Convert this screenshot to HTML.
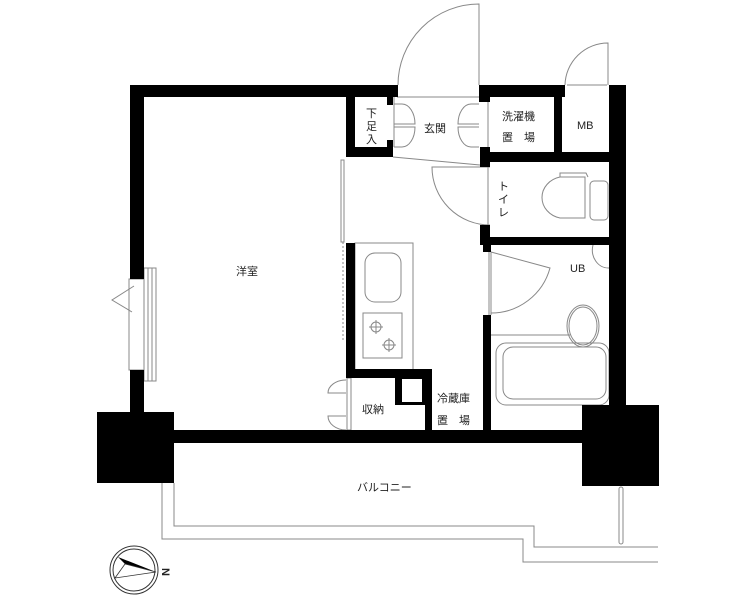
<!DOCTYPE html>
<html><head><meta charset="utf-8"><style>
html,body{margin:0;padding:0;background:#fff;}
svg text{font-family:"Liberation Sans","Noto Sans CJK JP",sans-serif;font-size:11px;fill:#222;}
</style></head><body>
<svg width="756" height="600" viewBox="0 0 756 600" xmlns="http://www.w3.org/2000/svg">
<g fill="none" stroke="#888" stroke-width="1">
<path d="M479,85 L479,4 A81,81 0 0 0 398,85"/>
<path d="M608,85 L608,43 A43,43 0 0 0 565,85"/>
<path d="M490,167 L432,167 A58,58 0 0 0 490,225"/>
<path d="M491,252 L550,268 A61,61 0 0 1 491,313"/>
<path d="M593,245 A16,18 0 0 0 609,268"/>
<path d="M134,286 L112,300 L132,312"/>
<path d="M394,104 L402,104 A13,20 0 0 1 415,124 L394,124 M394,147 L402,147 A13,20 0 0 0 415,127 L394,127"/>
<path d="M479,104 L471,104 A13,20 0 0 0 458,124 L479,124 M479,147 L471,147 A13,20 0 0 1 458,127 L479,127"/>
<path d="M346,380 A18,13 0 0 0 328,393 L346,393 M346,430 A18,14 0 0 1 328,416 L346,416"/>
<line x1="393" y1="157" x2="480" y2="165"/>
<line x1="397" y1="97" x2="479" y2="97"/>
<line x1="394" y1="97" x2="394" y2="147"/>
<line x1="488" y1="97" x2="488" y2="225"/>
<rect x="341" y="160" width="3" height="82"/>
<line x1="343" y1="242" x2="343" y2="340" stroke-dasharray="2,2"/>
<line x1="567" y1="85" x2="607" y2="85"/>
<line x1="489" y1="252" x2="489" y2="315"/>
<line x1="491" y1="252" x2="491" y2="315"/>
<rect x="129" y="279" width="15" height="91"/>
<rect x="144" y="268" width="12" height="113"/>
<line x1="148" y1="268" x2="148" y2="381"/><line x1="152" y1="268" x2="152" y2="381"/>
<rect x="355" y="243" width="58" height="127"/>
<rect x="365" y="253" width="36" height="49" rx="10"/>
<rect x="363" y="313" width="39" height="45"/>
<circle cx="376" cy="327" r="5"/><circle cx="389" cy="345" r="5"/>
<path d="M369,327h14M376,320v14M382,345h14M389,338v14"/>
<rect x="347" y="378" width="4" height="52"/>
<path d="M560,177 L585,177 L585,218 L560,218 A23,21 0 0 1 560,177Z"/>
<rect x="590" y="181" width="18" height="39" rx="4"/>
<path d="M560,177 L560,173 L586,173 L588,177"/>
<line x1="491" y1="335" x2="570" y2="335"/>
<ellipse cx="583" cy="326" rx="16" ry="21"/>
<ellipse cx="583" cy="326" rx="14" ry="19"/>
<rect x="496" y="343" width="113" height="62" rx="10"/>
<rect x="503" y="347" width="103" height="52" rx="10"/>
<path d="M162,483 L162,539 L523,539 L523,562 L658,562"/>
<path d="M174,483 L174,526 L534,526 L534,547 L658,547"/>
<rect x="619" y="487" width="4" height="57" rx="2"/>
</g>
<g fill="#000">
<rect x="132" y="85" width="266" height="12"/>
<rect x="479" y="85" width="86" height="12"/>
<rect x="609" y="85" width="17" height="320"/>
<rect x="130" y="85" width="14" height="194"/>
<rect x="130" y="370" width="14" height="42"/>
<rect x="97" y="412" width="77" height="71"/>
<rect x="174" y="430" width="410" height="13"/>
<rect x="582" y="405" width="77" height="81"/>
<rect x="346" y="97" width="9" height="60"/>
<rect x="346" y="147" width="47" height="10"/>
<rect x="387" y="97" width="6" height="8"/>
<rect x="387" y="140" width="6" height="10"/>
<rect x="479" y="97" width="11" height="5"/>
<rect x="480" y="147" width="10" height="20"/>
<rect x="480" y="152" width="129" height="10"/>
<rect x="554" y="97" width="8" height="56"/>
<rect x="480" y="225" width="10" height="15"/>
<rect x="480" y="237" width="129" height="8"/>
<rect x="483" y="240" width="8" height="12"/>
<rect x="483" y="315" width="8" height="115"/>
<rect x="346" y="243" width="9" height="135"/>
<rect x="346" y="369" width="86" height="9"/>
<rect x="425" y="369" width="7" height="61"/>
<rect x="395" y="378" width="30" height="27"/>
</g>
<rect x="402" y="379" width="20" height="23" fill="#fff"/>
<text x="236" y="275">洋室</text>
<text x="424" y="132">玄関</text>
<text x="366" y="117" font-size="10">下</text>
<text x="366" y="130" font-size="10">足</text>
<text x="366" y="143" font-size="10">入</text>
<text x="502" y="120">洗濯機</text>
<text x="502" y="141">置　場</text>
<text x="577" y="129" font-size="10">MB</text>
<text x="498" y="190" font-size="10">ト</text>
<text x="498" y="203" font-size="10">イ</text>
<text x="498" y="216" font-size="10">レ</text>
<text x="570" y="272">UB</text>
<text x="362" y="413">収納</text>
<text x="437" y="402">冷蔵庫</text>
<text x="437" y="424">置　場</text>
<text x="357" y="491" font-size="10">バルコニー</text>
<g fill="none" stroke="#333" stroke-width="1">
<circle cx="134" cy="570" r="24"/><circle cx="134" cy="570" r="21"/>
</g>
<polygon points="118,557 156,572 125,564" fill="#000"/>
<polygon points="125,564 156,572 115,578" fill="#fff" stroke="#333" stroke-width="0.8"/>
<text x="161" y="577" font-size="11" font-weight="bold" transform="rotate(90 166 573)">N</text>
</svg>
</body></html>
